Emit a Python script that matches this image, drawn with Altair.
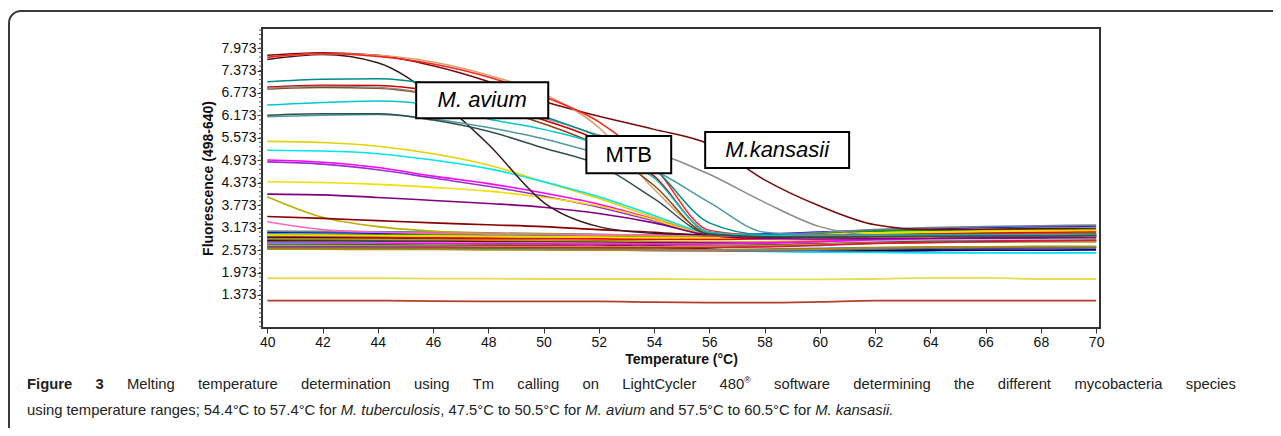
import altair as alt
import pandas as pd

# ---------------- data ----------------
temps = [40, 42, 44, 46, 48, 50, 52, 54, 56, 58, 60, 62, 64, 66, 68, 70]
x_ticks = [40, 42, 44, 46, 48, 50, 52, 54, 56, 58, 60, 62, 64, 66, 68, 70]
y_ticks = [1.373, 1.973, 2.573, 3.173, 3.773, 4.373, 4.973, 5.573, 6.173, 6.773, 7.373, 7.973]
y_minor = [round(1.373 + 0.12 * j, 3) for j in range(-7, 60)]

# flat baseline (negative / background) curves
base_names = ["b1", "b2", "b3", "b4", "b5", "b6", "b7", "b8", "b9", "b10", "b11",
              "b12", "b13", "b14", "b15", "b16", "b17", "b18", "b19", "b20", "b21", "b22"]
base_colors = ["#0000FF", "#00A000", "#00FF00", "#FF0000", "#000080", "#808000", "#FF8C00",
               "#008080", "#800000", "#000000", "#C0C0C0", "#FF00FF", "#00E0F0", "#8B4513",
               "#4682B4", "#9ACD32", "#DC143C", "#6A5ACD", "#2E8B57", "#B8860B", "#708090", "#FFD700"]
base_values = [
    [3.05, 3.04, 3.03, 3.02, 3.00, 2.99, 2.98, 2.97, 2.98, 3.00, 3.05, 3.10, 3.15, 3.18, 3.20, 3.22],
    [3.00, 2.99, 2.98, 2.98, 2.97, 2.96, 2.95, 2.94, 2.95, 2.97, 3.02, 3.08, 3.10, 3.12, 3.12, 3.13],
    [2.95, 2.95, 2.94, 2.93, 2.93, 2.92, 2.91, 2.90, 2.90, 2.92, 2.96, 3.00, 3.02, 3.03, 3.03, 3.04],
    [2.92, 2.92, 2.91, 2.90, 2.89, 2.88, 2.87, 2.86, 2.86, 2.88, 2.92, 2.97, 3.00, 3.02, 3.05, 3.06],
    [2.90, 2.89, 2.88, 2.86, 2.84, 2.82, 2.78, 2.70, 2.60, 2.55, 2.54, 2.55, 2.56, 2.57, 2.57, 2.58],
    [2.88, 2.87, 2.86, 2.85, 2.84, 2.83, 2.82, 2.80, 2.78, 2.78, 2.80, 2.84, 2.86, 2.87, 2.88, 2.88],
    [2.86, 2.85, 2.85, 2.84, 2.83, 2.82, 2.80, 2.79, 2.78, 2.79, 2.82, 2.86, 2.88, 2.90, 2.90, 2.91],
    [2.84, 2.83, 2.82, 2.81, 2.80, 2.79, 2.78, 2.77, 2.76, 2.76, 2.78, 2.80, 2.82, 2.83, 2.84, 2.84],
    [2.82, 2.81, 2.80, 2.80, 2.79, 2.78, 2.77, 2.76, 2.75, 2.74, 2.75, 2.77, 2.79, 2.80, 2.81, 2.82],
    [2.80, 2.79, 2.78, 2.77, 2.76, 2.75, 2.72, 2.65, 2.58, 2.55, 2.56, 2.58, 2.60, 2.62, 2.63, 2.64],
    [2.78, 2.78, 2.77, 2.77, 2.76, 2.76, 2.75, 2.74, 2.74, 2.75, 2.78, 2.82, 2.85, 2.86, 2.87, 2.88],
    [2.76, 2.76, 2.75, 2.75, 2.74, 2.74, 2.73, 2.73, 2.74, 2.76, 2.80, 2.85, 2.88, 2.90, 2.92, 2.93],
    [2.74, 2.73, 2.72, 2.70, 2.68, 2.66, 2.63, 2.60, 2.57, 2.54, 2.52, 2.51, 2.50, 2.50, 2.50, 2.50],
    [2.72, 2.72, 2.71, 2.70, 2.70, 2.69, 2.68, 2.68, 2.68, 2.70, 2.73, 2.76, 2.78, 2.79, 2.80, 2.80],
    [2.70, 2.69, 2.68, 2.66, 2.64, 2.60, 2.58, 2.57, 2.58, 2.60, 2.62, 2.64, 2.65, 2.66, 2.66, 2.66],
    [2.68, 2.68, 2.67, 2.67, 2.66, 2.66, 2.65, 2.65, 2.66, 2.68, 2.72, 2.76, 2.78, 2.79, 2.80, 2.80],
    [2.66, 2.66, 2.65, 2.65, 2.64, 2.64, 2.63, 2.63, 2.64, 2.66, 2.70, 2.75, 2.78, 2.80, 2.82, 2.83],
    [2.64, 2.64, 2.63, 2.62, 2.61, 2.60, 2.58, 2.56, 2.55, 2.55, 2.57, 2.60, 2.62, 2.63, 2.63, 2.64],
    [2.62, 2.62, 2.61, 2.60, 2.60, 2.59, 2.58, 2.57, 2.57, 2.58, 2.60, 2.62, 2.64, 2.65, 2.66, 2.66],
    [2.60, 2.60, 2.59, 2.59, 2.58, 2.58, 2.57, 2.57, 2.57, 2.58, 2.60, 2.63, 2.65, 2.66, 2.67, 2.67],
    [3.08, 3.07, 3.06, 3.05, 3.03, 3.01, 2.99, 2.97, 2.96, 2.98, 3.04, 3.12, 3.17, 3.20, 3.22, 3.24],
    [2.98, 2.97, 2.96, 2.95, 2.94, 2.93, 2.92, 2.91, 2.91, 2.93, 2.98, 3.03, 3.06, 3.08, 3.09, 3.10],
]

# low flat curves
low_names = ["low_yellow", "low_red"]
low_colors = ["#E8DC50", "#B5402A"]
low_values = [
    [1.82, 1.82, 1.82, 1.81, 1.81, 1.80, 1.80, 1.80, 1.79, 1.79, 1.79, 1.80, 1.83, 1.83, 1.80, 1.80],
    [1.22, 1.22, 1.22, 1.21, 1.20, 1.20, 1.20, 1.18, 1.17, 1.17, 1.19, 1.22, 1.22, 1.22, 1.22, 1.22],
]

# gradually declining curves
grad_names = ["g_yellow", "g_cyan", "g_magenta", "g_purple", "g_yellow2", "g_dpurple",
              "g_olive", "g_dred", "g_pink"]
grad_colors = ["#E6D200", "#00E5EE", "#FF00FF", "#9932CC", "#F0E000", "#800080",
               "#B8B000", "#8B0000", "#FF69B4"]
grad_values = [
    [5.48, 5.45, 5.35, 5.15, 4.85, 4.40, 3.95, 3.45, 3.00, 2.90, 2.90, 2.92, 2.93, 2.94, 2.94, 2.95],
    [5.24, 5.22, 5.15, 4.98, 4.75, 4.40, 4.00, 3.50, 3.02, 2.92, 2.91, 2.92, 2.93, 2.94, 2.95, 2.95],
    [4.98, 4.92, 4.78, 4.55, 4.35, 4.10, 3.80, 3.40, 2.98, 2.90, 2.89, 2.90, 2.91, 2.92, 2.92, 2.92],
    [4.93, 4.87, 4.72, 4.50, 4.28, 4.02, 3.72, 3.35, 2.97, 2.89, 2.88, 2.89, 2.90, 2.90, 2.91, 2.91],
    [4.40, 4.38, 4.33, 4.25, 4.15, 3.98, 3.75, 3.38, 2.98, 2.90, 2.89, 2.90, 2.91, 2.92, 2.92, 2.93],
    [4.07, 4.05, 3.98, 3.90, 3.82, 3.72, 3.55, 3.30, 2.97, 2.88, 2.87, 2.88, 2.89, 2.90, 2.90, 2.91],
    [4.00, 3.45, 3.20, 3.08, 3.02, 3.00, 2.98, 2.97, 2.96, 2.95, 2.95, 2.96, 2.97, 2.97, 2.98, 2.98],
    [3.47, 3.42, 3.36, 3.30, 3.25, 3.20, 3.12, 3.05, 2.95, 2.92, 2.92, 2.94, 2.95, 2.96, 2.96, 2.97],
    [3.33, 3.12, 3.05, 3.02, 3.00, 2.99, 2.98, 2.97, 2.96, 2.95, 2.95, 2.96, 2.97, 2.97, 2.98, 2.98],
]

# high-fluorescence melting curves (M. kansasii, M. avium, MTB group)
melt_names = ["kansasii", "avium", "m_tan", "m_red", "m_red2", "m_brown", "m_gray",
              "m_teal", "m_cyan", "m_teal3", "m_slate"]
melt_colors = ["#7A0A0A", "#3A1A1A", "#D9A066", "#FF2020", "#CC0000", "#8B4513", "#8C8C8C",
               "#008B8B", "#00C8D0", "#4F9A9A", "#2F4F4F"]
melt_values = [
    [7.78, 7.85, 7.78, 7.50, 7.08, 6.55, 6.15, 5.80, 5.40, 4.45, 3.75, 3.25, 3.12, 3.13, 3.15, 3.16],
    [7.67, 7.80, 7.58, 6.70, 5.40, 3.85, 3.20, 3.02, 2.98, 2.97, 2.96, 2.96, 2.96, 2.96, 2.96, 2.96],
    [7.72, 7.82, 7.78, 7.60, 7.25, 6.75, 5.85, 4.20, 3.05, 2.97, 2.96, 2.97, 2.98, 2.98, 2.99, 2.99],
    [7.73, 7.83, 7.75, 7.55, 7.20, 6.68, 6.00, 4.80, 3.10, 2.97, 2.96, 2.97, 2.98, 2.99, 3.00, 3.00],
    [6.93, 6.98, 6.97, 6.82, 6.50, 6.05, 5.50, 4.55, 3.05, 2.95, 2.94, 2.95, 2.96, 2.97, 2.97, 2.98],
    [6.88, 6.92, 6.90, 6.72, 6.40, 5.95, 5.35, 4.30, 3.00, 2.94, 2.93, 2.94, 2.95, 2.96, 2.96, 2.97],
    [6.90, 6.95, 6.92, 6.75, 6.45, 6.10, 5.65, 5.20, 4.60, 3.85, 3.20, 2.97, 2.95, 2.95, 2.96, 2.96],
    [7.07, 7.14, 7.15, 7.00, 6.65, 6.15, 5.60, 4.75, 3.30, 2.98, 2.96, 2.97, 2.98, 2.99, 2.99, 3.00],
    [6.45, 6.52, 6.56, 6.45, 6.08, 5.80, 5.38, 4.50, 3.05, 2.96, 2.95, 2.96, 2.97, 2.97, 2.98, 2.98],
    [6.14, 6.18, 6.20, 6.08, 5.85, 5.55, 5.15, 4.70, 3.85, 3.05, 2.96, 2.96, 2.97, 2.98, 2.98, 2.99],
    [6.18, 6.22, 6.22, 6.05, 5.75, 5.30, 4.85, 3.95, 3.00, 2.93, 2.92, 2.93, 2.94, 2.95, 2.95, 2.96],
]

# annotation boxes (temperature / fluorescence extents)
ann_labels = ["M. avium", "MTB", "M.kansasii"]
ann_italic = [True, False, True]
ann_t0 = [45.39, 51.55, 55.85]
ann_t1 = [50.17, 54.62, 61.06]
ann_v0 = [7.06, 5.62, 5.73]
ann_v1 = [6.10, 4.63, 4.77]

# caption: words, each word a list of (text, style) pieces
caption_line1 = [[("Figure", "bold")], [("3", "bold")], [("Melting", "n")], [("temperature", "n")],
                 [("determination", "n")], [("using", "n")], [("Tm", "n")], [("calling", "n")],
                 [("on", "n")], [("LightCycler", "n")], [("480", "n"), ("\u00ae", "sup")],
                 [("software", "n")], [("determining", "n")], [("the", "n")], [("different", "n")],
                 [("mycobacteria", "n")], [("species", "n")]]
caption_line2 = [[("using", "n")], [("temperature", "n")], [("ranges;", "n")],
                 [("54.4\u00b0C", "n")], [("to", "n")], [("57.4\u00b0C", "n")], [("for", "n")],
                 [("M.", "it")], [("tuberculosis", "it"), (",", "n")],
                 [("47.5\u00b0C", "n")], [("to", "n")], [("50.5\u00b0C", "n")], [("for", "n")],
                 [("M.", "it")], [("avium", "it")], [("and", "n")],
                 [("57.5\u00b0C", "n")], [("to", "n")], [("60.5\u00b0C", "n")], [("for", "n")],
                 [("M.", "it")], [("kansasii.", "it")]]

# ---------------- layout / style ----------------
FONT = "Liberation Sans"
CAP_FONT = "Liberation Sans"
W, H = 838, 300
PAD = {"left": 254, "top": 20, "right": 173, "bottom": 100}
CAP_FS = 14.8
CAP_X0 = -235
CAP_X1 = 974
CAP_Y = [357, 383]

AW = {' ': 278, '!': 278, '(': 333, ')': 333, ',': 278, '-': 333, '.': 278, ';': 278, ':': 278,
      '\u00b0': 400, '\u00ae': 737,
      'A': 667, 'B': 667, 'C': 722, 'D': 722, 'E': 667, 'F': 611, 'G': 778, 'H': 722, 'I': 278,
      'J': 500, 'K': 667, 'L': 556, 'M': 833, 'N': 722, 'O': 778, 'P': 667, 'Q': 778, 'R': 722,
      'S': 667, 'T': 611, 'U': 722, 'V': 667, 'W': 944, 'X': 667, 'Y': 667, 'Z': 611,
      'a': 556, 'b': 556, 'c': 500, 'd': 556, 'e': 556, 'f': 278, 'g': 556, 'h': 556, 'i': 222,
      'j': 222, 'k': 500, 'l': 222, 'm': 833, 'n': 556, 'o': 556, 'p': 556, 'q': 556, 'r': 333,
      's': 500, 't': 278, 'u': 556, 'v': 500, 'w': 722, 'x': 500, 'y': 500, 'z': 500}
AWB = {'F': 611, 'i': 278, 'g': 611, 'u': 611, 'r': 389, 'e': 556, ' ': 278, '3': 556}
SUP_SCALE = 0.6


def piece_width(s, style):
    tot = 0
    for ch in s:
        if ch.isdigit():
            tot += 556
        elif style == "bold":
            tot += AWB.get(ch, int(AW.get(ch, 556) * 1.05))
        else:
            tot += AW.get(ch, 556)
    fs = CAP_FS * (SUP_SCALE if style == "sup" else 1.0)
    return tot * fs / 1000.0


def word_width(word):
    return sum(piece_width(t, s) for t, s in word)


SPACE_W = 278 * CAP_FS / 1000.0

cap_rows = []
for li, line in enumerate([caption_line1, caption_line2]):
    gap = SPACE_W
    if li == 0:  # justified first line
        natural = sum(word_width(w) for w in line)
        gap = (CAP_X1 - CAP_X0 - natural) / (len(line) - 1)
    xpos = CAP_X0
    for word in line:
        for t, s in word:
            dy = -5 if s == "sup" else 0
            cap_rows.append({"txt": t, "px": xpos, "py": CAP_Y[li] + dy, "style": s})
            xpos += piece_width(t, s)
        xpos += gap
cap_df = pd.DataFrame(cap_rows)


def long_df(names, values):
    rows = []
    for n, vals in zip(names, values):
        for t, v in zip(temps, vals):
            rows.append({"curve": n, "t": t, "v": v})
    return pd.DataFrame(rows)


all_names = base_names + low_names + grad_names + melt_names
all_colors = base_colors + low_colors + grad_colors + melt_colors
color_scale = alt.Scale(domain=all_names, range=all_colors)

xs = alt.Scale(domain=[39.81, 70.14], nice=False, zero=False)
ys = alt.Scale(domain=[0.49, 8.51], nice=False, zero=False)

x_axis = alt.Axis(values=x_ticks, format="d", tickSize=5, tickColor="#333", tickWidth=1,
                  labelFont=FONT, labelFontSize=14, labelColor="#111", labelPadding=2,
                  labelFlush=False, labelOverlap=False, domain=False, grid=False,
                  title="Temperature (\u00b0C)", titleFont=FONT, titleFontSize=14,
                  titleFontWeight="bold", titleColor="#111", titleY=31, titleBaseline="middle")
y_axis = alt.Axis(values=y_ticks, format=".3f", tickSize=5, tickColor="#333", tickWidth=1,
                  labelFont=FONT, labelFontSize=14, labelColor="#111", labelPadding=1,
                  labelFlush=False, labelOverlap=False, domain=False, grid=False,
                  title="Fluorescence (498-640)", titleFont=FONT, titleFontSize=14,
                  titleFontWeight="bold", titleColor="#111", titleX=-54, titleY=150,
                  titleAngle=270, titleAlign="center", titleBaseline="middle")


def xe(f):
    return alt.X(f + ":Q", scale=xs, axis=x_axis)


def ye(f):
    return alt.Y(f + ":Q", scale=ys, axis=y_axis)


def lines(names, values, sw=1.6):
    return alt.Chart(long_df(names, values)).mark_line(
        interpolate="monotone", strokeWidth=sw).encode(
        x=xe("t"), y=ye("v"),
        color=alt.Color("curve:N", scale=color_scale, legend=None),
        detail="curve:N")


frame = alt.Chart(pd.DataFrame({"a": [0]})).mark_rect(
    filled=False, stroke="#3a3a3a", strokeWidth=2, cornerRadius=12).encode(
    x=alt.value(-253), x2=alt.value(1100), y=alt.value(-17), y2=alt.value(460))

minor = alt.Chart(pd.DataFrame({"m": y_minor})).mark_rule(color="#555", strokeWidth=1).encode(
    y=ye("m"), x=alt.value(-3), x2=alt.value(0))

ann_df = pd.DataFrame({"label": ann_labels, "italic": ann_italic, "t0": ann_t0, "t1": ann_t1,
                       "v0": ann_v0, "v1": ann_v1})
ann_df["tm"] = (ann_df["t0"] + ann_df["t1"]) / 2
ann_df["vm"] = (ann_df["v0"] + ann_df["v1"]) / 2

boxes = alt.Chart(ann_df).mark_rect(fill="white", stroke="black", strokeWidth=2).encode(
    x=xe("t0"), x2="t1", y=ye("v0"), y2="v1")
lab_it = alt.Chart(ann_df[ann_df["italic"]]).mark_text(
    font=FONT, fontSize=22, fontStyle="italic", color="black", baseline="middle").encode(
    x=xe("tm"), y=ye("vm"), text="label:N")
lab_n = alt.Chart(ann_df[~ann_df["italic"]]).mark_text(
    font=FONT, fontSize=22, color="black", baseline="middle").encode(
    x=xe("tm"), y=ye("vm"), text="label:N")


def cap_layer(style):
    d = cap_df[cap_df["style"] == style]
    kw = {}
    fs = CAP_FS
    if style == "bold":
        kw["fontWeight"] = "bold"
    if style == "it":
        kw["fontStyle"] = "italic"
    if style == "sup":
        fs = CAP_FS * SUP_SCALE
    return alt.Chart(d).mark_text(font=CAP_FONT, fontSize=fs, color="#222", align="left",
                                  baseline="middle", **kw).encode(
        x=alt.X("px:Q", scale=None), y=alt.Y("py:Q", scale=None), text="txt:N")


chart = alt.layer(
    frame,
    minor,
    lines(base_names, base_values, 1.8),
    lines(low_names, low_values, 1.8),
    lines(grad_names, grad_values, 1.6),
    lines(melt_names, melt_values, 1.5),
    boxes, lab_it, lab_n,
    cap_layer("bold"), cap_layer("n"), cap_layer("it"), cap_layer("sup"),
).properties(
    width=W, height=H, padding=PAD, autosize="none", background="white"
).configure_view(stroke="#333", strokeWidth=2, fill="white")

chart.save("out.html", embed_options={"renderer": "svg", "actions": False})
